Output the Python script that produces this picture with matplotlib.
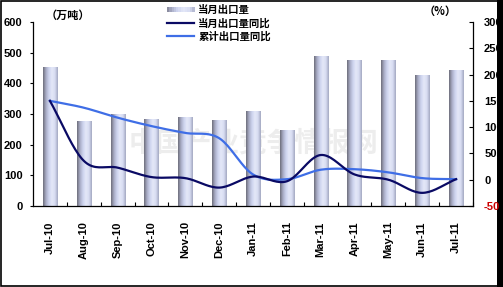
import numpy as np
import matplotlib
matplotlib.use("Agg")
import matplotlib.pyplot as plt
from matplotlib.patches import Rectangle
from matplotlib.colors import LinearSegmentedColormap
from matplotlib.legend_handler import HandlerBase
from matplotlib.lines import Line2D

plt.rcParams['font.family'] = ['Liberation Sans', 'Noto Sans CJK SC', 'DejaVu Sans']

months = ["Jul-10", "Aug-10", "Sep-10", "Oct-10", "Nov-10", "Dec-10", "Jan-11",
          "Feb-11", "Mar-11", "Apr-11", "May-11", "Jun-11", "Jul-11"]
monthly_export = [454, 278, 300, 285, 290, 282, 311, 247, 490, 477, 477, 428, 445]
monthly_yoy = [150, 36, 23, 5, 3, -15, 6, -3, 47, 10, 0, -25, 1]
cumulative_yoy = [150, 137, 118, 102, 89, 79, 10, 1, 19, 20, 14, 3, 1]

left_ticks = [0, 100, 200, 300, 400, 500, 600]
right_ticks = [-50, 0, 50, 100, 150, 200, 250, 300]

W, H = 503, 287
fig = plt.figure(figsize=(W / 100, H / 100), dpi=100)
ax = fig.add_axes([33 / W, (H - 206) / H, 440 / W, 184 / H])
ax2 = ax.twinx()

x = np.arange(len(months))
cmap = LinearSegmentedColormap.from_list(
    "cyl", ["#6e6e7c", "#a9adc6", "#cdd3ee", "#e4e8f8", "#d8ddf2", "#a4a9c2"])
grad = np.linspace(0, 1, 64).reshape(1, -1)

bars = ax.bar(x, monthly_export, width=0.42, color="none", edgecolor="none", zorder=2)
for b in bars:
    bx, by = b.get_x(), b.get_y()
    bw, bh = b.get_width(), b.get_height()
    im = ax.imshow(grad, cmap=cmap, aspect="auto", extent=[bx, bx + bw, by, by + bh],
                   zorder=2, interpolation="bilinear")
    im.set_clip_path(b)

ax.set_xlim(-0.5, len(months) - 0.5)
ax.set_ylim(0, 600)
ax2.set_ylim(-50, 300)


def smooth(xs, ys, n=20):
    xs = np.asarray(xs, float)
    ys = np.asarray(ys, float)
    P = np.column_stack([xs, ys])
    P = np.vstack([2 * P[0] - P[1], P, 2 * P[-1] - P[-2]])
    out = []
    for i in range(1, len(P) - 2):
        p0, p1, p2, p3 = P[i - 1], P[i], P[i + 1], P[i + 2]
        t = np.linspace(0, 1, n, endpoint=False)[:, None]
        c = 0.5 * ((2 * p1) + (-p0 + p2) * t + (2 * p0 - 5 * p1 + 4 * p2 - p3) * t ** 2
                   + (-p0 + 3 * p1 - 3 * p2 + p3) * t ** 3)
        out.append(c)
    out.append(P[-2][None, :])
    out = np.vstack(out)
    return out[:, 0], out[:, 1]


c_dark = "#0a0a64"
c_light = "#3f6ee6"
sx, sy = smooth(x, cumulative_yoy)
ax2.plot(sx, sy, color=c_light, lw=1.6, zorder=4)
sx, sy = smooth(x, monthly_yoy)
ax2.plot(sx, sy, color=c_dark, lw=1.6, zorder=5)

# axes styling
for a in (ax, ax2):
    a.spines['top'].set_visible(False)
ax.spines['right'].set_visible(False)
ax2.spines['left'].set_visible(False)
ax2.spines['bottom'].set_visible(False)
for s in ('left', 'bottom'):
    ax.spines[s].set_linewidth(0.9)
ax2.spines['right'].set_linewidth(0.9)

ax.set_yticks(left_ticks)
ax.set_yticklabels([str(v) for v in left_ticks], fontsize=8, fontweight='bold')
ax.tick_params(axis='y', direction='out', length=2.5, width=0.8, pad=5)
ax2.set_yticks(right_ticks)
ax2.set_yticklabels([str(v) for v in right_ticks], fontsize=8, fontweight='bold')
ax2.tick_params(axis='y', direction='in', length=3, width=0.8, pad=8)
for lbl in ax2.get_yticklabels():
    if lbl.get_text() == "-50":
        lbl.set_color("#cc0000")

ax.set_xticks(x)
ax.set_xticklabels(months, rotation=90, fontsize=8, fontweight='bold')
ax.tick_params(axis='x', which='major', length=0, pad=11)
ax.set_xticks(np.arange(-0.5, len(months), 1.0)[1:], minor=True)
ax.tick_params(axis='x', which='minor', direction='in', length=3, width=0.8)

ax.set_zorder(1)
ax2.set_zorder(2)
ax2.patch.set_visible(False)

# watermark (behind bars)
ax.text(253 / 440 - 33 / 440, 1 - (143 - 22) / 184, "中国产业竞争情报网", transform=ax.transAxes,
        fontsize=20, fontweight='bold', color="#ededed", ha='center', va='center',
        family=['Noto Sans CJK SC'], zorder=1)

# unit labels
fig.text(68 / W, 1 - 15 / H, "（万吨）", fontsize=8, fontweight='bold', ha='center', va='center',
         family=['Noto Sans CJK SC'])
fig.text(440 / W, 1 - 11 / H, "（%）", fontsize=8, fontweight='bold', ha='center', va='center',
         family=['Noto Sans CJK SC'])


class GradHandler(HandlerBase):
    def create_artists(self, legend, orig_handle, xd, yd, width, height, fontsize, trans):
        arts = []
        n = 12
        for i in range(n):
            r = Rectangle((xd + width * i / n, yd + height * 0.1), width / n + 0.3, height * 0.8,
                          facecolor=cmap(0.1 + 0.9 * i / n), edgecolor='none', transform=trans)
            arts.append(r)
        return arts


bar_handle = Rectangle((0, 0), 1, 1)
h1 = Line2D([], [], color=c_dark, lw=1.6)
h2 = Line2D([], [], color=c_light, lw=1.6)
leg = fig.legend([bar_handle, h1, h2], ["当月出口量", "当月出口量同比", "累计出口量同比"],
                 handler_map={Rectangle: GradHandler()},
                 loc='upper left', bbox_to_anchor=(166 / W, 1 - 4 / H),
                 frameon=False, prop={'family': ['Noto Sans CJK SC'], 'weight': 'bold', 'size': 7.5},
                 handlelength=2.6, handletextpad=0.4, labelspacing=0.3, borderpad=0.1,
                 borderaxespad=0)

# border
fig.patches.append(Rectangle((0.5 / W, 1.5 / H), (W - 1) / W, (H - 2.5) / H, transform=fig.transFigure,
                             fill=False, edgecolor='black', lw=1.2))
fig.patches.append(Rectangle((497 / W, 0), 6 / W, 1, transform=fig.transFigure,
                             facecolor='black', edgecolor='none'))

fig.savefig("out.png", dpi=100)
